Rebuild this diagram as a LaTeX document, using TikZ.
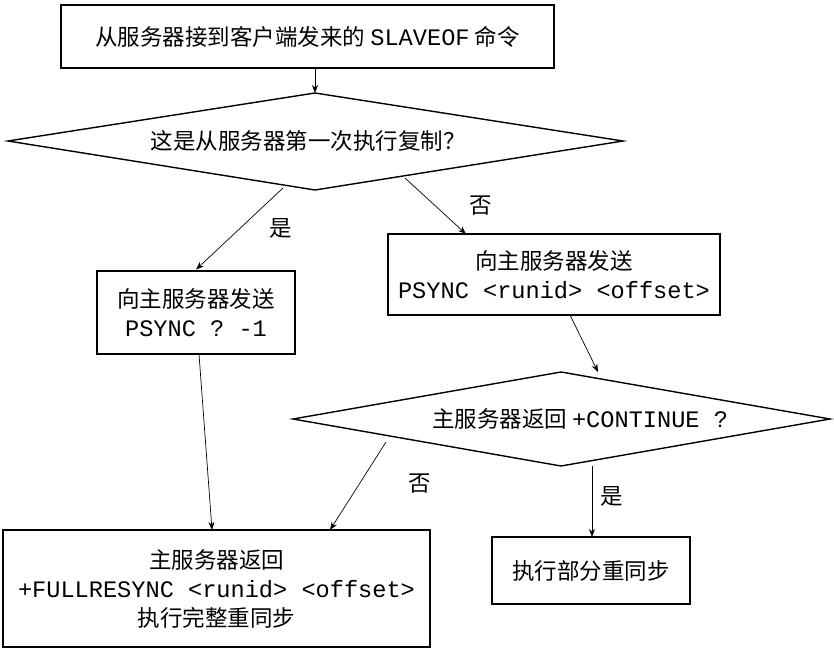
\documentclass[tikz,border=0pt]{standalone}
\usepackage{fontspec}
\setmainfont{Noto Sans CJK SC}
\newfontfamily\mono{Liberation Mono}[Scale=1.05]
\usetikzlibrary{arrows.meta}
\begin{document}
\begin{tikzpicture}[x=1pt,y=-1pt,
  box/.style={draw,line width=2.8pt,inner sep=0pt,align=center,font=\fontsize{22.5}{29}\selectfont},
  dia/.style={draw,line width=1.4pt},
  arr/.style={-{Stealth[length=8pt,width=6pt]},line width=0.7pt},
  lab/.style={font=\fontsize{22.5}{24}\selectfont}]
\useasboundingbox (0,0) rectangle (834,650);
\node[box,minimum width=493pt,minimum height=63pt] (top) at (307.5,36.5) {从服务器接到客户端发来的 {\mono SLAVEOF} 命令};
\draw[dia] (8,141) -- (315,93) -- (623,141) -- (315,190) -- cycle;
\node[lab] (d1) at (308,141) {这是从服务器第一次执行复制？};
\coordinate (d1top) at (315,93);
\coordinate (d1l) at (283,188);
\coordinate (d1r) at (405,178);
\node[box,minimum width=198pt,minimum height=83pt] (lb) at (196,312.5) {向主服务器发送\\{\mono PSYNC ? -1}};
\node[box,minimum width=332pt,minimum height=81pt] (rb) at (554,274.5) {向主服务器发送\\{\mono PSYNC <runid> <offset>}};
\draw[dia] (293,419) -- (561,372) -- (830,419) -- (561,466) -- cycle;
\node[lab] (d2) at (580,419) {主服务器返回 {\mono +CONTINUE ?}};
\coordinate (d2top) at (598,372);
\coordinate (d2l) at (386,442);
\coordinate (d2b) at (592,466);
\node[box,minimum width=427pt,minimum height=117pt] (bl) at (216.5,588.5) {主服务器返回\\{\mono +FULLRESYNC <runid> <offset>}\\执行完整重同步};
\node[box,minimum width=198pt,minimum height=67pt] (br) at (591,570.5) {执行部分重同步};
\draw[arr] (top.south -| d1top) -- (d1top);
\draw[arr] (d1l) -- (lb.north);
\node[lab] (l1) at (281,228) {是};
\draw[arr] (d1r) -- (466,234);
\node[lab] (l2) at (481,206) {否};
\draw[arr] (570,315) -- (d2top);
\draw[arr] (199,354) -- (212,530);
\draw[arr] (d2l) -- (330,530);
\node[lab] (l3) at (420,484) {否};
\draw[arr] (d2b) -- (592,537);
\node[lab] (l4) at (612,496) {是};
\end{tikzpicture}
\end{document}
